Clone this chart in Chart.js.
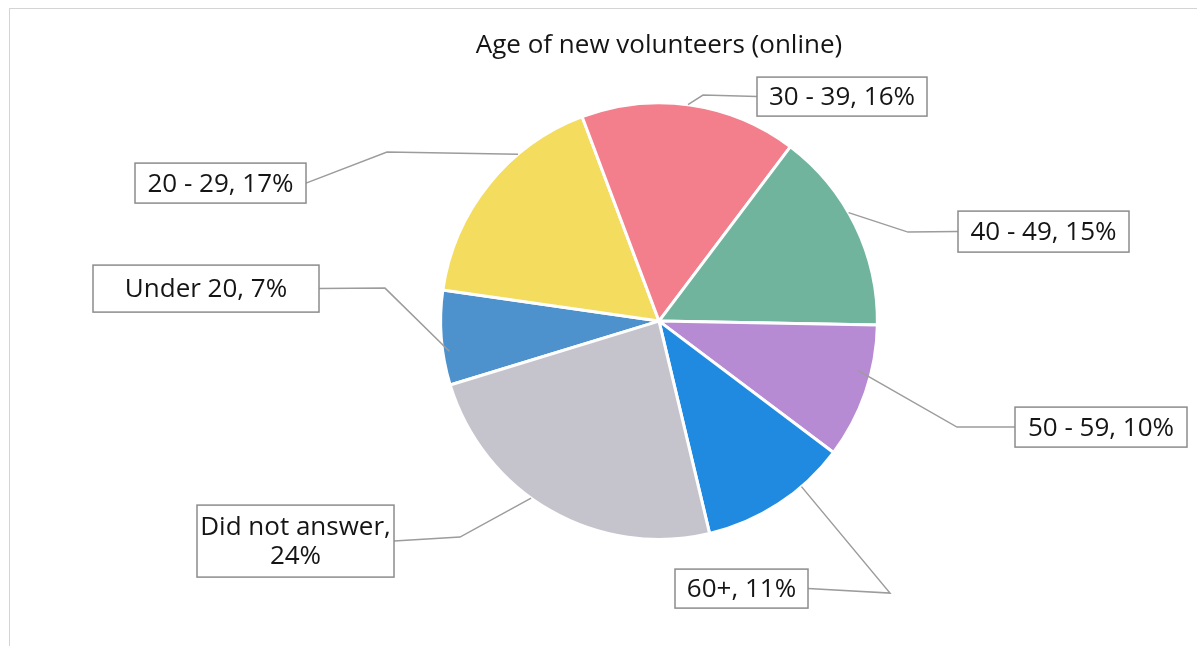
<!DOCTYPE html>
<html>
<head>
<meta charset="utf-8">
<script src="https://cdn.jsdelivr.net/npm/chart.js@4.4.1/dist/chart.umd.min.js"></script>
<style>
    html, body { margin: 0; padding: 0; background: #fff; overflow: hidden; }
    #wrap { position: relative; width: 1197px; height: 646px; }
    #frame { position: absolute; left: 9px; top: 8px; right: -2px; bottom: -2px; border-top: 1px solid #d4d4d4; border-left: 1px solid #d4d4d4; }
    canvas { position: absolute; left: 0; top: 0; }
</style>
</head>
<body>
<div id="wrap">
    <div id="frame"></div>
    <canvas id="chart" width="1197" height="646"></canvas>
</div>
<script>
    'use strict';

    // data
    const ageGroups = [ 'Under 20', '20 - 29', '30 - 39', '40 - 49', '50 - 59', '60+', 'Did not answer' ];
    const sharePercent = [ 7, 17, 16, 15, 10, 11, 24 ];
    const sliceColors = [ '#4e92cd', '#f3dc5e', '#f27f8b', '#71b49d', '#b78bd3', '#1f8ae0', '#c5c4cc' ];

    // callout boxes: offsets (px) from the pie centre, leader elbow, and where on the slice the leader lands
    const callouts = [
        { box: [ -566, -56, 226, 47 ], elbow: [ -274, -33 ], side: 'right', at: 0.35, rf: 0.97 },
        { box: [ -524, -158, 171, 40 ], elbow: [ -272, -169 ], side: 'right', at: 0.68, rf: 1.0 },
        { box: [ 98, -244, 170, 39 ], elbow: [ 44, -226 ], side: 'left', at: 0.49, rf: 1.0 },
        { box: [ 299, -110, 171, 41 ], elbow: [ 249, -89 ], side: 'left', at: 0.43, rf: 1.0 },
        { box: [ 356, 86, 172, 40 ], elbow: [ 298, 106 ], side: 'left', at: 0.36, rf: 0.94 },
        { box: [ 16, 248, 133, 39 ], elbow: [ 231, 272 ], side: 'right', at: 0.31, rf: 1.0 },
        { box: [ -462, 184, 197, 72 ], elbow: [ -199, 216 ], side: 'right', at: 0.57, rf: 1.0, wrap: true }
    ];

    const labelFont = '26px "Open Sans", "Noto Sans", sans-serif';

    const calloutPlugin = {
        id: 'callouts',
        afterDatasetsDraw ( chart )
        {
            const { ctx } = chart;
            const arcs = chart.getDatasetMeta( 0 ).data;
            ctx.save();
            arcs.forEach( ( arc, i ) =>
            {
                const c = callouts[ i ];
                const { x, y, outerRadius, startAngle, endAngle } = arc.getProps( [ 'x', 'y', 'outerRadius', 'startAngle', 'endAngle' ], true );
                const a = startAngle + c.at * ( endAngle - startAngle );
                const ax = x + Math.cos( a ) * outerRadius * c.rf;
                const ay = y + Math.sin( a ) * outerRadius * c.rf;
                const [ bl, bt, bw, bh ] = c.box;
                const left = x + bl, top = y + bt;
                const ex = x + c.elbow[ 0 ], ey = y + c.elbow[ 1 ];
                const sx = c.side === 'right' ? left + bw : left;
                const sy = top + bh / 2;

                // leader
                ctx.strokeStyle = '#9c9c9c';
                ctx.lineWidth = 1.5;
                ctx.beginPath();
                ctx.moveTo( ax, ay );
                ctx.lineTo( ex, ey );
                ctx.lineTo( sx, sy );
                ctx.stroke();

                // box
                ctx.fillStyle = '#fff';
                ctx.fillRect( left, top, bw, bh );
                ctx.strokeStyle = '#8c8c8c';
                ctx.lineWidth = 1.5;
                ctx.strokeRect( left, top, bw, bh );

                // text
                const text = ageGroups[ i ] + ', ' + sharePercent[ i ] + '%';
                const lines = c.wrap ? [ ageGroups[ i ] + ',', sharePercent[ i ] + '%' ] : [ text ];
                ctx.fillStyle = '#151515';
                ctx.font = labelFont;
                ctx.textAlign = 'center';
                ctx.textBaseline = 'middle';
                const lh = 29;
                lines.forEach( ( line, k ) =>
                {
                    ctx.fillText( line, left + bw / 2, sy + ( k - ( lines.length - 1 ) / 2 ) * lh + 1 );
                } );
            } );
            ctx.restore();
        }
    };

    new Chart( document.getElementById( 'chart' ), {
        type: 'pie',
        data: {
            labels: ageGroups,
            datasets: [ {
                data: sharePercent,
                backgroundColor: sliceColors,
                borderColor: '#ffffff',
                borderWidth: 3
            } ]
        },
        options: {
            responsive: false,
            animation: false,
            rotation: -107,
            layout: {
                padding: { left: 439, right: 318, top: 0, bottom: 105 }
            },
            plugins: {
                legend: { display: false },
                tooltip: { enabled: false },
                title: {
                    display: true,
                    text: 'Age of new volunteers (online)',
                    color: '#151515',
                    font: { family: '"Open Sans", "Noto Sans", sans-serif', size: 26, weight: 'normal', lineHeight: 1.2 },
                    padding: { top: 30, bottom: 40 }
                }
            }
        },
        plugins: [ calloutPlugin ]
    } );
</script>
</body>
</html>
